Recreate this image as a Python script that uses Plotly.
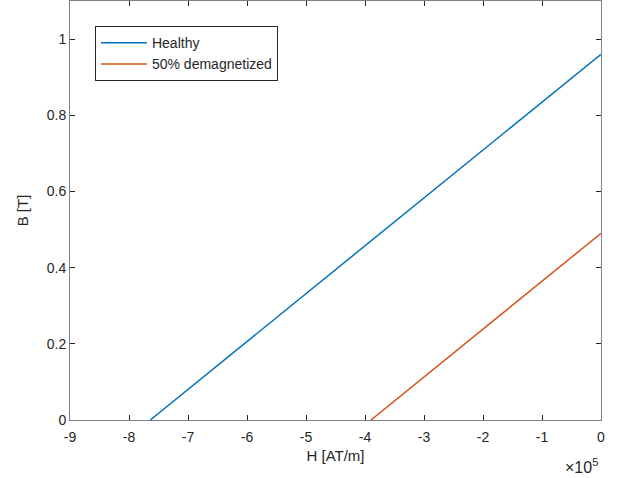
import numpy as np
import plotly.graph_objects as go

mu0 = 4e-7 * np.pi
series_names = ["Healthy", "50% demagnetized"]
remanence_T = [0.96, 0.49]
colors = ["#0072BD", "#D95319"]
x_tick_vals = [-9e5, -8e5, -7e5, -6e5, -5e5, -4e5, -3e5, -2e5, -1e5, 0]
x_tick_text = ["-9", "-8", "-7", "-6", "-5", "-4", "-3", "-2", "-1", "0"]
y_tick_vals = [0, 0.2, 0.4, 0.6, 0.8, 1]
y_tick_text = ["0", "0.2", "0.4", "0.6", "0.8", "1"]

fig = go.Figure()
for name, br, c in zip(series_names, remanence_T, colors):
    hc = br / mu0
    fig.add_trace(go.Scatter(x=[-hc, 0], y=[0, br], mode="lines", name=name,
                             line=dict(color=c, width=1.5)))

font = dict(family="Liberation Sans, Arial, Helvetica, sans-serif", color="#262626")
axcol = "#808080"
fig.update_layout(
    width=621, height=478,
    margin=dict(l=70, r=20, t=1, b=58),
    paper_bgcolor="white", plot_bgcolor="white",
    font=dict(size=14, **font),
    showlegend=True,
    legend=dict(x=0.047, y=0.94, xanchor="left", yanchor="top",
                bordercolor="#262626", borderwidth=1, bgcolor="white",
                font=dict(size=14, **font), tracegroupgap=0,
                itemwidth=46),
    xaxis=dict(range=[-9e5, 0], tickvals=x_tick_vals, ticktext=x_tick_text,
               ticks="inside", ticklen=5, tickcolor="#262626",
               showline=True, linecolor=axcol, linewidth=1, mirror="ticks",
               showgrid=False, zeroline=False, ticklabelstandoff=4,
               title=dict(text="H [AT/m]", font=dict(size=15, **font), standoff=6)),
    yaxis=dict(range=[0, 1.1], tickvals=y_tick_vals, ticktext=y_tick_text,
               ticks="inside", ticklen=5, tickcolor="#262626",
               showline=True, linecolor=axcol, linewidth=1, mirror="ticks",
               showgrid=False, zeroline=False,
               title=dict(text="B [T]", font=dict(size=15, **font), standoff=14)),
)
fig.add_annotation(text="×10<sup>5</sup>", xref="paper", yref="paper",
                   x=0.999, y=-0.08, xanchor="right", yanchor="top",
                   showarrow=False, font=dict(size=16, **font))
fig.write_html("out.html")
